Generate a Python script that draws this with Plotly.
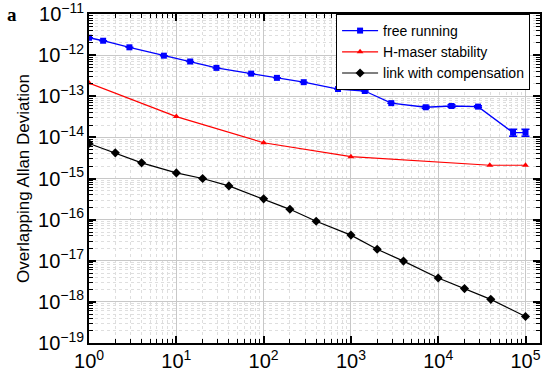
import plotly.graph_objects as go

# ---- data ----
free_tau = [1, 1.45, 2.9, 7.2, 14.4, 28.8, 72, 142, 288, 712, 1440, 2900, 7200, 14200, 28600, 72000, 100000]
free_adev = [2.65e-12, 2.24e-12, 1.55e-12, 9.7e-13, 7.0e-13, 4.9e-13, 3.55e-13, 2.8e-13, 2.2e-13,
             1.5e-13, 1.34e-13, 6.8e-14, 5.4e-14, 5.8e-14, 5.6e-14, 1.3e-14, 1.3e-14]
free_err_up = [0, 0, 0, 0, 0, 0, 0, 0, 0, 0, 0, 0, 3e-15, 4e-15, 3e-15, 2.8e-15, 2.8e-15]
free_err_dn = [0, 0, 0, 0, 0, 0, 0, 0, 0, 0, 0, 0, 3e-15, 4e-15, 3e-15, 2.3e-15, 2.3e-15]

maser_tau = [1, 10, 100, 1000, 39000, 100000]
maser_adev = [2.1e-13, 3.2e-14, 7.4e-15, 3.4e-15, 2.1e-15, 2.1e-15]

link_tau = [1, 2, 4, 10, 20, 40, 100, 200, 400, 1000, 2000, 4000, 10000, 20000, 40000, 100000]
link_adev = [7.1e-15, 4.2e-15, 2.4e-15, 1.37e-15, 1.0e-15, 6.6e-16, 3.2e-16, 1.78e-16, 9.1e-17,
             4.2e-17, 1.9e-17, 9.8e-18, 3.8e-18, 2.1e-18, 1.15e-18, 4.4e-19]

series_names = ["free running", "H-maser stability", "link with compensation"]
x_alias = {"1": "10<sup>0</sup>", "10": "10<sup>1</sup>"}
y_title = "Overlapping Allan Deviation"
panel_label = "a"

fig = go.Figure()
fig.add_trace(go.Scatter(
    x=free_tau, y=free_adev, name=series_names[0], mode="lines+markers",
    line=dict(color="#0000ff", width=1.3),
    marker=dict(symbol="square", size=6, color="#0000ff"),
    error_y=dict(type="data", array=free_err_up, arrayminus=free_err_dn,
                 color="#0000ff", thickness=1.5, width=4),
))
fig.add_trace(go.Scatter(
    x=maser_tau, y=maser_adev, name=series_names[1], mode="lines+markers",
    line=dict(color="#ff0000", width=1.2),
    marker=dict(symbol="triangle-up", size=6, color="#ff0000"),
))
fig.add_trace(go.Scatter(
    x=link_tau, y=link_adev, name=series_names[2], mode="lines+markers",
    line=dict(color="#000000", width=1.2),
    marker=dict(symbol="diamond", size=7, color="#000000"),
))

font_family = "Liberation Sans, Arial, sans-serif"
common_axis = dict(
    type="log", showline=True, linecolor="black", linewidth=1.5, mirror="ticks",
    ticks="inside", ticklen=7, tickwidth=1.5, tickcolor="black",
    showgrid=True, gridcolor="#c8c8c8", gridwidth=1,
    zeroline=False, exponentformat="power", automargin=False,
    ticklabeloverflow="allow",
    tickfont=dict(family=font_family, size=16, color="black"),
    minor=dict(dtick="D1", ticks="inside", ticklen=4, tickwidth=1, tickcolor="black",
               showgrid=True, gridcolor="#dedede", griddash="dot", gridwidth=1),
)

fig.update_layout(
    width=553, height=383,
    margin=dict(l=89, r=13, t=14, b=40),
    paper_bgcolor="white", plot_bgcolor="white",
    font=dict(family=font_family, color="black"),
    xaxis=dict(common_axis, range=[-0.0005, 5.166], dtick=1, tick0=0, labelalias=x_alias),
    yaxis=dict(common_axis, range=[-19.0005, -10.9995], dtick=1, tick0=0,
               title=dict(text=y_title, font=dict(family=font_family, size=17), standoff=4)),
    legend=dict(x=0.978, y=1.0, xanchor="right", yanchor="top",
                bgcolor="white", bordercolor="black", borderwidth=1,
                font=dict(family=font_family, size=14), tracegroupgap=0,
                itemwidth=36),
    showlegend=True,
)
fig.add_annotation(text="<b>" + panel_label + "</b>", xref="paper", yref="paper",
                   x=-0.171, y=1.0, xanchor="center", yanchor="middle", showarrow=False,
                   font=dict(family="Liberation Serif, Times New Roman, serif", size=19, color="black"))

fig.write_html("out.html", config={"displayModeBar": False},
               post_script="document.body.style.margin='0';")
